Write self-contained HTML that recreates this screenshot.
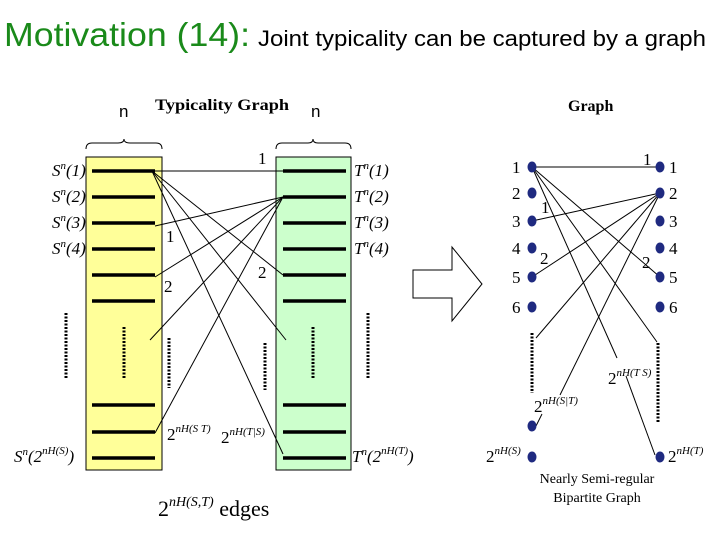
<!DOCTYPE html>
<html><head><meta charset="utf-8"><style>
html,body{margin:0;padding:0;background:#fff;width:720px;height:540px;overflow:hidden}
svg{display:block}
.s{font-family:"Liberation Serif",serif}
.a{font-family:"Liberation Sans",sans-serif}
</style></head><body>
<svg width="720" height="540" viewBox="0 0 720 540" xmlns="http://www.w3.org/2000/svg">
<text x="4" y="46" class="a" font-size="33" fill="#1a8a1a" textLength="246" lengthAdjust="spacingAndGlyphs">Motivation (14):</text>
<text x="258" y="46" class="a" font-size="22" fill="#000" textLength="448" lengthAdjust="spacingAndGlyphs">Joint typicality can be captured by a graph</text>
<text x="119" y="117" class="a" font-size="17">n</text>
<text x="311" y="117" class="a" font-size="17">n</text>
<text x="155" y="110" class="s" font-size="16" font-weight="bold" textLength="134" lengthAdjust="spacingAndGlyphs">Typicality Graph</text>
<text x="568" y="111" class="s" font-size="16" font-weight="bold">Graph</text>

<!-- braces -->
<path d="M86 149 Q86 143 92 143 L118 143 Q124 143 124 139 Q124 143 130 143 L156 143 Q162 143 162 149" fill="none" stroke="#000" stroke-width="1"/>
<path d="M276 149 Q276 143 282 143 L308 143 Q313 143 313 139 Q313 143 318 143 L345 143 Q351 143 351 149" fill="none" stroke="#000" stroke-width="1"/>

<!-- boxes -->
<rect x="86" y="157" width="76" height="313" fill="#ffff99" stroke="#000" stroke-width="1"/>
<rect x="276" y="157" width="75" height="313" fill="#ccffcc" stroke="#000" stroke-width="1"/>
<g stroke="#000" stroke-width="3.5">
<line x1="92" y1="171" x2="155" y2="171"/><line x1="92" y1="197" x2="155" y2="197"/><line x1="92" y1="223" x2="155" y2="223"/><line x1="92" y1="249" x2="155" y2="249"/><line x1="92" y1="275" x2="155" y2="275"/><line x1="92" y1="301" x2="155" y2="301"/><line x1="92" y1="405" x2="155" y2="405"/><line x1="92" y1="432" x2="155" y2="432"/><line x1="92" y1="458" x2="155" y2="458"/>
<line x1="283" y1="171" x2="346" y2="171"/><line x1="283" y1="197" x2="346" y2="197"/><line x1="283" y1="223" x2="346" y2="223"/><line x1="283" y1="249" x2="346" y2="249"/><line x1="283" y1="275" x2="346" y2="275"/><line x1="283" y1="301" x2="346" y2="301"/><line x1="283" y1="405" x2="346" y2="405"/><line x1="283" y1="432" x2="346" y2="432"/><line x1="283" y1="458" x2="346" y2="458"/>
</g>
<g stroke="#000" stroke-width="3" stroke-dasharray="2,1.5">
<line x1="66" y1="313" x2="66" y2="379"/><line x1="124" y1="327" x2="124" y2="379"/><line x1="169" y1="338" x2="169" y2="388"/><line x1="265" y1="343" x2="265" y2="390"/><line x1="313" y1="327" x2="313" y2="379"/><line x1="368" y1="313" x2="368" y2="379"/>
</g>
<g stroke="#000" stroke-width="1" fill="none">
<line x1="152" y1="171" x2="283" y2="171"/>
<line x1="152" y1="171" x2="283" y2="275"/>
<line x1="152" y1="171" x2="286" y2="340"/>
<line x1="152" y1="171" x2="283" y2="454"/>
<line x1="155" y1="226" x2="283" y2="197"/>
<line x1="155" y1="277" x2="283" y2="197"/>
<line x1="150" y1="340" x2="283" y2="197"/>
<line x1="155" y1="433" x2="283" y2="197"/>
</g>
<g class="s" font-size="17" font-style="italic">
<text x="52" y="176">S<tspan font-size="11" dy="-7">n</tspan><tspan dy="7">(1)</tspan></text>
<text x="52" y="202">S<tspan font-size="11" dy="-7">n</tspan><tspan dy="7">(2)</tspan></text>
<text x="52" y="228">S<tspan font-size="11" dy="-7">n</tspan><tspan dy="7">(3)</tspan></text>
<text x="52" y="254">S<tspan font-size="11" dy="-7">n</tspan><tspan dy="7">(4)</tspan></text>
<text x="354" y="176">T<tspan font-size="11" dy="-7">n</tspan><tspan dy="7">(1)</tspan></text>
<text x="354" y="202">T<tspan font-size="11" dy="-7">n</tspan><tspan dy="7">(2)</tspan></text>
<text x="354" y="228">T<tspan font-size="11" dy="-7">n</tspan><tspan dy="7">(3)</tspan></text>
<text x="354" y="254">T<tspan font-size="11" dy="-7">n</tspan><tspan dy="7">(4)</tspan></text>
<text x="14" y="462">S<tspan font-size="11" dy="-7">n</tspan><tspan dy="7">(2</tspan><tspan font-size="11" dy="-8">nH(S)</tspan><tspan dy="8">)</tspan></text>
<text x="352" y="462">T<tspan font-size="11" dy="-7">n</tspan><tspan dy="7">(2</tspan><tspan font-size="11" dy="-8">nH(T)</tspan><tspan dy="8">)</tspan></text>
</g>
<g class="s" font-size="17">
<text x="258" y="164">1</text><text x="166" y="242">1</text><text x="164" y="292">2</text><text x="258" y="278">2</text>
<text x="167" y="440">2<tspan font-size="11" dy="-8" font-style="italic">nH(S T)</tspan></text>
<text x="221" y="443">2<tspan font-size="11" dy="-8" font-style="italic">nH(T|S)</tspan></text>
<text x="158" y="516" font-size="22">2<tspan font-size="14" dy="-10" font-style="italic">nH(S,T)</tspan><tspan dy="10"> edges</tspan></text>
</g>

<!-- big arrow -->
<path d="M413 270 L452 270 L452 247 L482 284 L452 321 L452 298 L413 298 Z" fill="#fff" stroke="#000" stroke-width="1"/>

<!-- right graph -->
<g stroke="#000" stroke-width="1" fill="none">
<line x1="532" y1="167" x2="660" y2="167"/>
<line x1="532" y1="167" x2="660" y2="277"/>
<line x1="532" y1="167" x2="617" y2="358"/>
<line x1="626" y1="376" x2="655" y2="455"/>
<line x1="532" y1="167" x2="657" y2="342"/>
<line x1="532" y1="221" x2="660" y2="193"/>
<line x1="532" y1="277" x2="660" y2="193"/>
<line x1="536" y1="338" x2="660" y2="193"/>
<line x1="560" y1="395" x2="660" y2="193"/>
<line x1="536" y1="426" x2="542" y2="414"/>
</g>
<g stroke="#000" stroke-width="3" stroke-dasharray="2,1.5">
<line x1="532" y1="333" x2="532" y2="393"/><line x1="658" y1="343" x2="658" y2="423"/>
</g>
<g fill="#1f2a80">
<ellipse cx="532" cy="167" rx="4.5" ry="5.5"/><ellipse cx="532" cy="193" rx="4.5" ry="5.5"/><ellipse cx="532" cy="221" rx="4.5" ry="5.5"/><ellipse cx="532" cy="248" rx="4.5" ry="5.5"/><ellipse cx="532" cy="277" rx="4.5" ry="5.5"/><ellipse cx="532" cy="307" rx="4.5" ry="5.5"/><ellipse cx="532" cy="426" rx="4.5" ry="5.5"/><ellipse cx="532" cy="457" rx="4.5" ry="5.5"/>
<ellipse cx="660" cy="167" rx="4.5" ry="5.5"/><ellipse cx="660" cy="193" rx="4.5" ry="5.5"/><ellipse cx="660" cy="221" rx="4.5" ry="5.5"/><ellipse cx="660" cy="248" rx="4.5" ry="5.5"/><ellipse cx="660" cy="277" rx="4.5" ry="5.5"/><ellipse cx="660" cy="307" rx="4.5" ry="5.5"/><ellipse cx="660" cy="457" rx="4.5" ry="5.5"/>
</g>
<g class="s" font-size="17">
<text x="512" y="173">1</text><text x="512" y="199">2</text><text x="512" y="227">3</text><text x="512" y="254">4</text><text x="512" y="283">5</text><text x="512" y="313">6</text>
<text x="669" y="173">1</text><text x="669" y="199">2</text><text x="669" y="227">3</text><text x="669" y="254">4</text><text x="669" y="283">5</text><text x="669" y="313">6</text>
<text x="643" y="165">1</text><text x="541" y="213">1</text><text x="540" y="264">2</text><text x="642" y="268">2</text>
<text x="534" y="412">2<tspan font-size="11" dy="-8" font-style="italic">nH(S|T)</tspan></text>
<text x="608" y="384">2<tspan font-size="11" dy="-8" font-style="italic">nH(T S)</tspan></text>
<text x="486" y="462">2<tspan font-size="11" dy="-8" font-style="italic">nH(S)</tspan></text>
<text x="668" y="462">2<tspan font-size="11" dy="-8" font-style="italic">nH(T)</tspan></text>
<text x="597" y="483" font-size="14" text-anchor="middle">Nearly Semi-regular</text>
<text x="597" y="502" font-size="14" text-anchor="middle">Bipartite Graph</text>
</g>
</svg>
</body></html>
